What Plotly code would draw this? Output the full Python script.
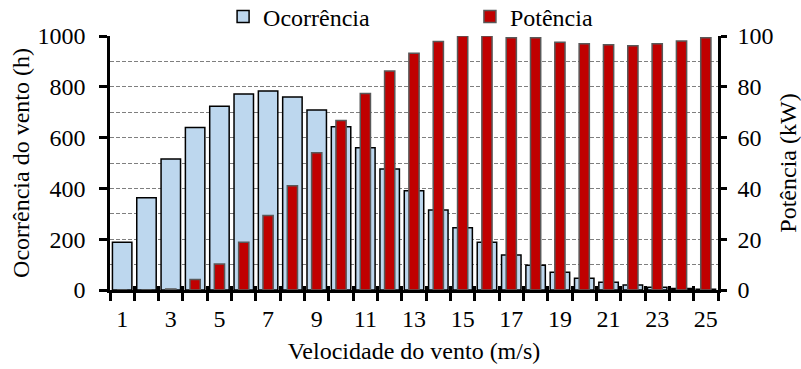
import plotly.graph_objects as go

# Wind speed bins (m/s)
speed = list(range(1, 26))

# Hours of occurrence per wind-speed bin
occurrence_h = [188, 363, 516, 640, 723, 772, 783, 760, 709, 643,
                560, 476, 391, 315, 245, 188, 138, 97, 70, 46,
                31, 20, 11, 6, 3]

# Turbine power output per wind-speed bin (kW)
power_kw = [0, 0, 0.4, 4.1, 10.2, 18.8, 29.3, 41.0, 54.0, 66.7,
            77.4, 86.2, 93.2, 97.8, 100, 100, 99.3, 99.3, 97.5, 96.9,
            96.6, 96.2, 96.9, 98.0, 99.3]

x_tick_vals = list(range(1, 26, 2))
bin_edges = [i + 0.5 for i in range(0, 26)]

FONT = "'Liberation Serif', 'Times New Roman', Times, serif"
FS = 24
GRID = "#7f7f7f"

fig = go.Figure()

fig.add_trace(go.Bar(
    x=speed, y=occurrence_h, name="Ocorrência", width=0.8,
    marker=dict(color="#BDD7EE", line=dict(color="black", width=1.5)),
    legend="legend", showlegend=True,
))

fig.add_trace(go.Bar(
    x=speed, y=power_kw, name="Potência", width=0.42,
    xaxis="x2", yaxis="y2",
    marker=dict(color="#C00000", line=dict(color="#595959", width=1.5)),
    legend="legend2", showlegend=True,
))

fig.update_layout(
    width=801, height=369,
    margin=dict(l=110, r=83, t=36, b=79, autoexpand=False),
    paper_bgcolor="white", plot_bgcolor="white",
    font=dict(family=FONT, size=FS, color="black"),
    barmode="overlay",
    showlegend=True,
    xaxis=dict(
        range=[0.5, 25.5], automargin=False,
        tickmode="array", tickvals=x_tick_vals,
        ticks="", showgrid=False, zeroline=False,
        showline=True, linecolor="black", linewidth=2.5,
        tickfont=dict(family=FONT, size=FS), ticklabelstandoff=5,
        minor=dict(tickmode="array", tickvals=bin_edges, ticks="outside",
                   ticklen=8, tickwidth=3, tickcolor="black", showgrid=False),
        title=dict(text="Velocidade do vento (m/s)", font=dict(family=FONT, size=FS), standoff=12),
    ),
    xaxis2=dict(
        range=[0.5, 25.5], matches="x", overlaying="x", anchor="y2", side="bottom",
        tickmode="array", tickvals=bin_edges, ticks="inside",
        ticklen=4, tickwidth=3, tickcolor="black",
        showticklabels=False, showgrid=False, zeroline=False, showline=False,
    ),
    yaxis=dict(
        range=[0, 1000], dtick=200, tick0=0, automargin=False,
        ticks="outside", ticklen=8, tickwidth=3, tickcolor="black",
        showline=True, linecolor="black", linewidth=2.5,
        showgrid=True, gridcolor=GRID, gridwidth=1, griddash="4px,2px",
        zeroline=False,
        minor=dict(dtick=100, showgrid=True, gridcolor=GRID, gridwidth=1,
                   griddash="4px,2px"),
        tickfont=dict(family=FONT, size=FS), ticklabelstandoff=9,
        title=dict(text="Ocorrência do vento (h)", font=dict(family=FONT, size=FS), standoff=2),
    ),
    yaxis2=dict(
        range=[0, 100], dtick=20, tick0=0, overlaying="y", side="right",
        automargin=False,
        ticks="outside", ticklen=6, tickwidth=3, tickcolor="black",
        showline=True, linecolor="black", linewidth=2.5,
        showgrid=False, zeroline=False,
        tickfont=dict(family=FONT, size=FS), ticklabelstandoff=6,
        title=dict(text="Potência (kW)", font=dict(family=FONT, size=FS), standoff=10),
    ),
    legend=dict(x=0.186, y=1 - 17 / 369, xanchor="left", yanchor="middle",
                yref="container",
                orientation="h", font=dict(family=FONT, size=FS), bgcolor="rgba(0,0,0,0)",
                itemwidth=30),
    legend2=dict(x=0.592, y=1 - 17 / 369, xanchor="left", yanchor="middle",
                 yref="container",
                 orientation="h", font=dict(family=FONT, size=FS), bgcolor="rgba(0,0,0,0)",
                 itemwidth=30),
)

fig.write_html("out.html")
